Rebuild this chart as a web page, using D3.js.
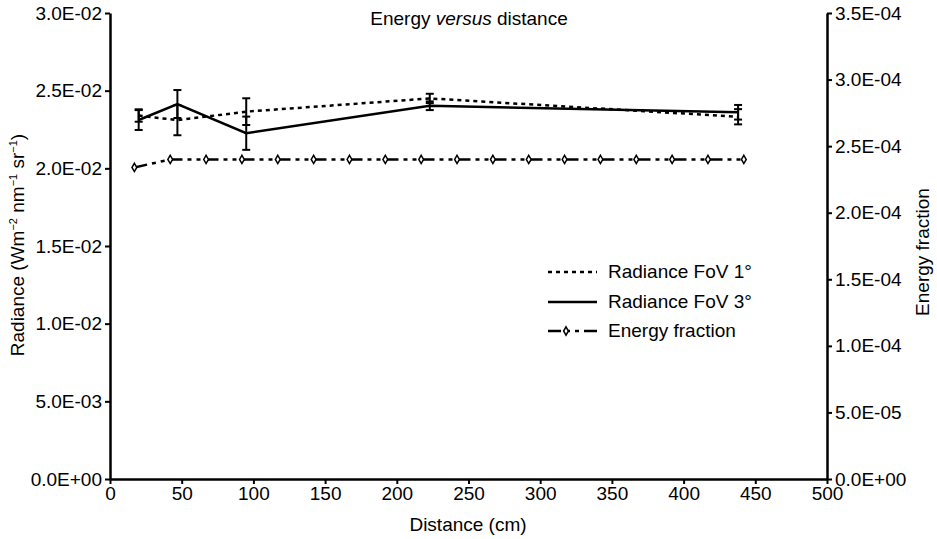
<!DOCTYPE html>
<html>
<head>
<meta charset="utf-8">
<script src="https://cdn.jsdelivr.net/npm/d3@7"></script>
<style>
  body { margin: 0; background: #fff; }
  text { font-family: "Liberation Sans", Arial, sans-serif; fill: #000; }
</style>
</head>
<body>
<div id="chart"></div>
<script>
// radiance measurements
const radDist = [20, 47, 95, 223, 438];
const fov1 = [0.0234, 0.0231, 0.02365, 0.0245, 0.02332];
const fov1Err = [0.0004, 0.00097, 0.00086, 0.0003, 0.00049];
const fov3 = [0.02311, 0.02414, 0.02226, 0.02403, 0.02361];
const fov3Err = [0.00064, 0.0009, 0.00107, 0.00028, 0.00047];

// energy fraction
const efDist = [17, 42, 67, 92, 117, 142, 167, 192, 217, 242, 267, 292, 317, 342, 367, 392, 417, 442];
const efVals = [2.34e-4, 2.40e-4, 2.40e-4, 2.40e-4, 2.40e-4, 2.40e-4, 2.40e-4, 2.40e-4, 2.40e-4,
                2.40e-4, 2.40e-4, 2.40e-4, 2.40e-4, 2.40e-4, 2.40e-4, 2.40e-4, 2.40e-4, 2.40e-4];

const xTicks = [0, 50, 100, 150, 200, 250, 300, 350, 400, 450, 500];
const yLeftTicks = [0, 0.005, 0.01, 0.015, 0.02, 0.025, 0.03];
const yLeftLabels = ['0.0E+00', '5.0E-03', '1.0E-02', '1.5E-02', '2.0E-02', '2.5E-02', '3.0E-02'];
const yRightTicks = [0, 5e-5, 1e-4, 1.5e-4, 2e-4, 2.5e-4, 3e-4, 3.5e-4];
const yRightLabels = ['0.0E+00', '5.0E-05', '1.0E-04', '1.5E-04', '2.0E-04', '2.5E-04', '3.0E-04', '3.5E-04'];

const legendNames = ['Radiance FoV 1°', 'Radiance FoV 3°', 'Energy fraction'];

const chartWidth = 937;
const chartHeight = 539;
const plotLeft = 110, plotRight = 827, plotTop = 13, plotBottom = 479;

const svg = d3.select('#chart')
    .append('svg')
    .attr('width', chartWidth)
    .attr('height', chartHeight);

const x = d3.scaleLinear().domain([0, 500]).range([plotLeft, plotRight]);
const yL = d3.scaleLinear().domain([0, 0.03]).range([plotBottom, plotTop]);
const yR = d3.scaleLinear().domain([0, 3.5e-4]).range([plotBottom, plotTop]);

function styleAxis(g) {
    g.selectAll('.domain').attr('stroke', '#000').attr('stroke-width', 2.5);
    g.selectAll('.tick line').attr('stroke', '#000').attr('stroke-width', 2);
    g.selectAll('.tick text').style('font-size', '19px')
        .style('font-family', '"Liberation Sans", Arial, sans-serif');
}

svg.append('g')
    .attr('transform', `translate(0,${plotBottom})`)
    .call(d3.axisBottom(x).tickValues(xTicks).tickSize(5).tickSizeOuter(0).tickPadding(3))
    .call(styleAxis);

svg.append('g')
    .attr('transform', `translate(${plotLeft},0)`)
    .call(d3.axisLeft(yL).tickValues(yLeftTicks).tickFormat((d, i) => yLeftLabels[i])
        .tickSize(5).tickSizeOuter(0).tickPadding(3))
    .call(styleAxis);

svg.append('g')
    .attr('transform', `translate(${plotRight},0)`)
    .call(d3.axisRight(yR).tickValues(yRightTicks).tickFormat((d, i) => yRightLabels[i])
        .tickSize(5).tickSizeOuter(0).tickPadding(3))
    .call(styleAxis);

// energy fraction line
const efData = efDist.map((d, i) => ({x: d, y: efVals[i]}));
svg.append('path')
    .datum(efData)
    .attr('d', d3.line().x(d => x(d.x)).y(d => yR(d.y)))
    .attr('fill', 'none')
    .attr('stroke', '#000')
    .attr('stroke-width', 2.5)
    .attr('stroke-dasharray', '13,5,4,5,4,5');

svg.selectAll('.ef')
    .data(efData)
    .enter()
    .append('path')
    .attr('transform', d => `translate(${x(d.x)},${yR(d.y)})`)
    .attr('d', d3.symbol(d3.symbolDiamond, 20))
    .attr('fill', '#fff')
    .attr('stroke', '#000')
    .attr('stroke-width', 1.5);

// radiance lines
const series = [
    {vals: fov1, err: fov1Err, dash: '4,4'},
    {vals: fov3, err: fov3Err, dash: null}
];

series.forEach(s => {
    const pts = radDist.map((d, i) => ({x: d, y: s.vals[i], e: s.err[i]}));
    svg.append('path')
        .datum(pts)
        .attr('d', d3.line().x(d => x(d.x)).y(d => yL(d.y)))
        .attr('fill', 'none')
        .attr('stroke', '#000')
        .attr('stroke-width', 2.5)
        .attr('stroke-dasharray', s.dash);

    const eb = svg.append('g').selectAll('g')
        .data(pts)
        .enter()
        .append('g');
    eb.append('line')
        .attr('x1', d => x(d.x)).attr('x2', d => x(d.x))
        .attr('y1', d => yL(d.y - d.e)).attr('y2', d => yL(d.y + d.e))
        .attr('stroke', '#000').attr('stroke-width', 2);
    [-1, 1].forEach(sign => {
        eb.append('line')
            .attr('x1', d => x(d.x) - 4).attr('x2', d => x(d.x) + 4)
            .attr('y1', d => yL(d.y + sign * d.e)).attr('y2', d => yL(d.y + sign * d.e))
            .attr('stroke', '#000').attr('stroke-width', 2);
    });
});

// titles
const title = svg.append('text')
    .attr('x', 469).attr('y', 25)
    .attr('text-anchor', 'middle')
    .style('font-size', '19px');
title.append('tspan').text('Energy ');
title.append('tspan').style('font-style', 'italic').text('versus');
title.append('tspan').text(' distance');

svg.append('text')
    .attr('x', 468).attr('y', 531)
    .attr('text-anchor', 'middle')
    .style('font-size', '19px')
    .text('Distance (cm)');

const yl = svg.append('text')
    .attr('transform', 'translate(24,245) rotate(-90)')
    .attr('text-anchor', 'middle')
    .style('font-size', '19px');
yl.append('tspan').text('Radiance (Wm');
yl.append('tspan').attr('dy', -7).style('font-size', '11px').text('−2');
yl.append('tspan').attr('dy', 7).text(' nm');
yl.append('tspan').attr('dy', -7).style('font-size', '11px').text('−1');
yl.append('tspan').attr('dy', 7).text(' sr');
yl.append('tspan').attr('dy', -7).style('font-size', '11px').text('−1');
yl.append('tspan').attr('dy', 7).text(')');

svg.append('text')
    .attr('transform', 'translate(929,252) rotate(-90)')
    .attr('text-anchor', 'middle')
    .style('font-size', '19px')
    .text('Energy fraction');

// legend
const legY = [272, 302, 331];
const legDash = ['4,4', null, '13,5,4,5,4,5'];
legendNames.forEach((name, i) => {
    svg.append('line')
        .attr('x1', 548).attr('x2', 597)
        .attr('y1', legY[i]).attr('y2', legY[i])
        .attr('stroke', '#000').attr('stroke-width', 2.5)
        .attr('stroke-dasharray', legDash[i]);
    if (i === 2) {
        svg.append('path')
            .attr('transform', `translate(566,${legY[i]})`)
            .attr('d', d3.symbol(d3.symbolDiamond, 20))
            .attr('fill', '#fff').attr('stroke', '#000').attr('stroke-width', 1.5);
    }
    svg.append('text')
        .attr('x', 608).attr('y', legY[i] + 6)
        .style('font-size', '19px')
        .text(name);
});
</script>
</body>
</html>
